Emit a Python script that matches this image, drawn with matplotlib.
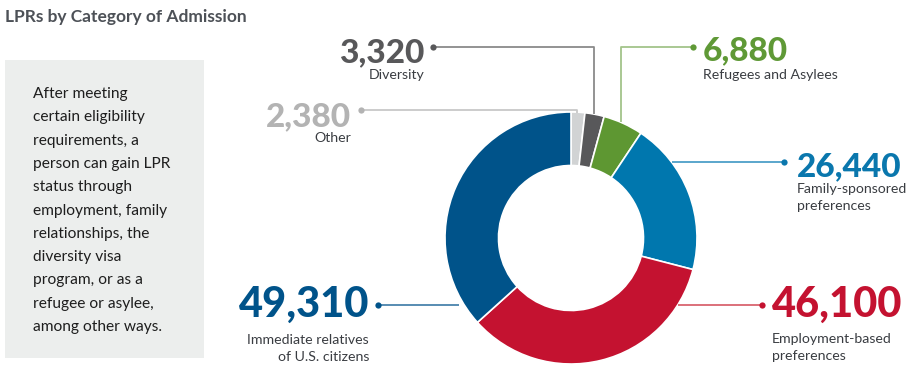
import matplotlib
matplotlib.use("Agg")
import matplotlib.pyplot as plt
from matplotlib.patches import Rectangle

plt.rcParams['font.family'] = ['Lato', 'DejaVu Sans']

# ---- data ----
categories = ["Other", "Diversity", "Refugees and Asylees", "Family-sponsored preferences",
              "Employment-based preferences", "Immediate relatives of U.S. citizens"]
values = [2380, 3320, 6880, 26440, 46100, 49310]
value_labels = ["2,380", "3,320", "6,880", "26,440", "46,100", "49,310"]
label_lines = [["Other"], ["Diversity"], ["Refugees and Asylees"],
               ["Family-sponsored", "preferences"],
               ["Employment-based", "preferences"],
               ["Immediate relatives", "of U.S. citizens"]]
slice_colors = ["#d1d3d4", "#58585a", "#5e9732", "#0077ae", "#c41230", "#00538a"]
text_colors = ["#b3b3b3", "#58585a", "#5f9936", "#0a77ad", "#c41230", "#00538a"]
line_colors = ["#c8c8c8", "#8a8a8a", "#a3c48a", "#4d9fc8", "#d9646f", "#4a83ad"]
title = "LPRs by Category of Admission"
body = ["After meeting", "certain eligibility", "requirements, a", "person can gain LPR",
        "status through", "employment, family", "relationships, the", "diversity visa",
        "program, or as a", "refugee or asylee,", "among other ways."]

W, H = 918, 384
fig = plt.figure(figsize=(W / 100, H / 100), dpi=100)
ax = fig.add_axes([0, 0, 1, 1])

# donut
cx, cy, R, inner = 571, 238, 126, 72.5
ax.pie(values, colors=slice_colors, center=(cx, cy), radius=R, startangle=-90,
       counterclock=True, wedgeprops=dict(width=R - inner, edgecolor="white", linewidth=1.2))
ax.set_xlim(0, W)
ax.set_ylim(H, 0)
ax.set_aspect('auto')
ax.axis('off')

# title
ax.text(5, 22, title, fontsize=12.5, fontweight='bold', color="#4d5157", ha='left', va='baseline')

# side box
ax.add_patch(Rectangle((5, 60), 199, 298, facecolor="#eceeed", edgecolor='none', zorder=0))
for i, ln in enumerate(body):
    ax.text(33, 98 + i * 23.3, ln, fontsize=11.2, color="#1e1e1e", ha='left', va='baseline')

# leader lines: (points list), dot at first point
leaders = [
    [(361, 110), (577, 110), (577, 113)],
    [(433, 47), (594, 47), (594, 114)],
    [(693, 47), (621, 47), (621, 122)],
    [(784, 162), (672, 162)],
    [(762, 305), (678, 305)],
    [(378, 305), (459, 305)],
]
for pts, lc, tc in zip(leaders, line_colors, text_colors):
    xs = [p[0] for p in pts]
    ys = [p[1] for p in pts]
    ax.plot(xs, ys, color=lc, lw=1.3, solid_capstyle='butt', zorder=1)
    ax.plot(xs[0], ys[0], 'o', ms=4.5, color=tc, mec='none', zorder=3)

# number + label positions: (x, number baseline, number size, label baselines, align)
layout = [
    (351, 126, 24, [142], 'right'),
    (424, 62, 24, [79], 'right'),
    (703, 60, 24, [79], 'left'),
    (797, 176, 24, [193, 210], 'left'),
    (772, 317, 30, [343, 360], 'left'),
    (369, 317, 30, [344, 361], 'right'),
]
for (x, nb, fs, lbs, al), vl, lines, tc in zip(layout, value_labels, label_lines, text_colors):
    ax.text(x, nb, vl, fontsize=fs, fontweight='black', color=tc, ha=al, va='baseline')
    for lb, ln in zip(lbs, lines):
        ax.text(x, lb, ln, fontsize=10.2, color="#3a3d42", ha=al, va='baseline')

fig.savefig("out.png", dpi=100)
